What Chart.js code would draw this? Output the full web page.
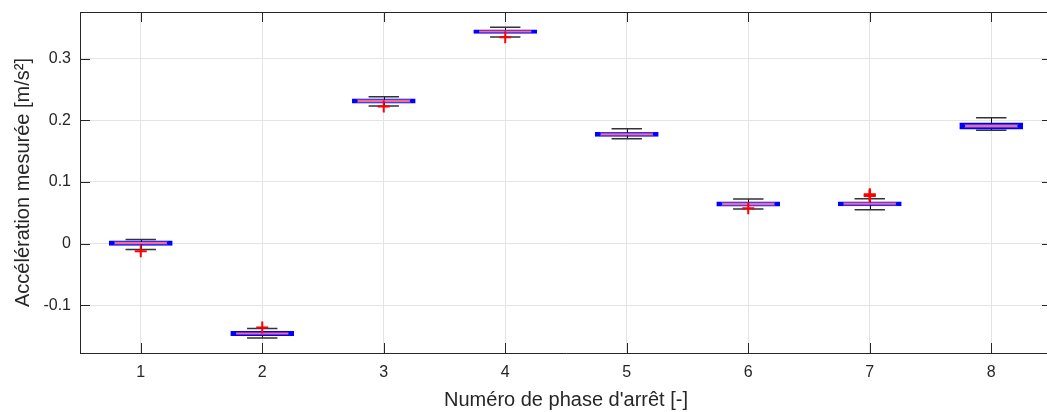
<!DOCTYPE html>
<html>
<head>
<meta charset="utf-8">
<script src="https://cdn.jsdelivr.net/npm/chart.js@4/dist/chart.umd.min.js"></script>
<style>
  html, body { margin: 0; padding: 0; background: #fff; overflow: hidden; }
  #wrap { width: 1060px; height: 412px; }
</style>
</head>
<body>
<div id="wrap"><canvas id="boxChart" width="1060" height="412"></canvas></div>
<script>
// données (une boîte par phase d'arrêt)
const phases = [1, 2, 3, 4, 5, 6, 7, 8];
const medians     = [0.0008, -0.1458, 0.2312, 0.3437, 0.1772, 0.0642, 0.0645, 0.1905];
const q1          = [-0.0012, -0.1476, 0.2296, 0.3427, 0.1757, 0.0627, 0.0630, 0.1875];
const q3          = [0.0024, -0.1441, 0.2327, 0.3447, 0.1787, 0.0657, 0.0660, 0.1938];
const whiskerLow  = [-0.0097, -0.1530, 0.2232, 0.3350, 0.1700, 0.0560, 0.0550, 0.1836];
const whiskerHigh = [0.0065, -0.1378, 0.2380, 0.3506, 0.1864, 0.0723, 0.0729, 0.2040];
const outlierPhase = [1, 2, 3, 4, 6, 7, 7, 7];
const outlierValue = [-0.0125, -0.1362, 0.2222, 0.3345, 0.0575, 0.0770, 0.0785, 0.0800];
const yTicks = [-0.1, 0, 0.1, 0.2, 0.3];

const textColor = '#262626';
const fontFamily = '"Liberation Sans", Arial, Helvetica, sans-serif';

// moustaches, médianes, cadre et graduations intérieures
const boxPlugin = {
  id: 'boxPlugin',
  beforeDatasetsDraw(chart) {
    const ctx = chart.ctx;
    const x = chart.scales.x, y = chart.scales.y;
    ctx.save();
    phases.forEach((p, i) => {
      const px = Math.round(x.getPixelForValue(p)) + 0.5;
      const capL = x.getPixelForValue(p - 0.125);
      const capR = x.getPixelForValue(p + 0.125);
      ctx.strokeStyle = '#000';
      ctx.lineWidth = 1;
      ctx.beginPath();
      ctx.moveTo(px, y.getPixelForValue(q3[i]));
      ctx.lineTo(px, y.getPixelForValue(whiskerHigh[i]));
      ctx.moveTo(px, y.getPixelForValue(q1[i]));
      ctx.lineTo(px, y.getPixelForValue(whiskerLow[i]));
      ctx.stroke();
      ctx.strokeStyle = '#333';
      ctx.lineWidth = 1.5;
      ctx.beginPath();
      ctx.moveTo(capL, y.getPixelForValue(whiskerHigh[i]));
      ctx.lineTo(capR, y.getPixelForValue(whiskerHigh[i]));
      ctx.moveTo(capL, y.getPixelForValue(whiskerLow[i]));
      ctx.lineTo(capR, y.getPixelForValue(whiskerLow[i]));
      ctx.stroke();
    });
    ctx.restore();
  },
  afterDatasetDraw(chart, args) {
    if (args.index !== 0) return;
    const ctx = chart.ctx;
    const x = chart.scales.x, y = chart.scales.y;
    ctx.save();
    ctx.strokeStyle = 'rgb(255, 105, 130)';
    ctx.lineWidth = 2;
    phases.forEach((p, i) => {
      const py = y.getPixelForValue(medians[i]);
      ctx.beginPath();
      ctx.moveTo(x.getPixelForValue(p - 0.215), py);
      ctx.lineTo(x.getPixelForValue(p + 0.215), py);
      ctx.stroke();
    });
    ctx.restore();
  },
  afterDraw(chart) {
    const ctx = chart.ctx;
    const a = chart.chartArea;
    const x = chart.scales.x, y = chart.scales.y;
    const tl = 10;
    ctx.save();
    ctx.strokeStyle = textColor;
    ctx.lineWidth = 1;
    ctx.beginPath();
    ctx.moveTo(a.left, a.top + 0.5);
    ctx.lineTo(a.right, a.top + 0.5);
    ctx.lineTo(a.right, a.bottom);
    phases.forEach(p => {
      const px = Math.round(x.getPixelForValue(p)) + 0.5;
      ctx.moveTo(px, a.bottom);
      ctx.lineTo(px, a.bottom - tl);
      ctx.moveTo(px, a.top);
      ctx.lineTo(px, a.top + tl);
    });
    yTicks.forEach(v => {
      const py = Math.round(y.getPixelForValue(v)) + 0.5;
      ctx.moveTo(a.left, py);
      ctx.lineTo(a.left + tl, py);
      ctx.moveTo(a.right, py);
      ctx.lineTo(a.right - tl, py);
    });
    ctx.stroke();
    ctx.restore();
  }
};

const ctx = document.getElementById('boxChart').getContext('2d');
const boxChart = new Chart(ctx, {
  type: 'bar',
  data: {
    datasets: [
      {
        label: 'Boîtes',
        data: phases.map((p, i) => ({ x: p, y: [q1[i], q3[i]] })),
        backgroundColor: 'rgb(0, 0, 255)',
        borderColor: 'rgb(0, 0, 255)',
        borderWidth: 2,
        borderSkipped: false,
        inflateAmount: 1.5,
        categoryPercentage: 1,
        barPercentage: 0.5,
        order: 2
      },
      {
        type: 'scatter',
        label: 'Valeurs aberrantes',
        data: outlierPhase.map((p, i) => ({ x: p, y: outlierValue[i] })),
        pointStyle: 'cross',
        pointRadius: 6,
        borderColor: 'rgb(255, 0, 0)',
        borderWidth: 2,
        order: 1
      }
    ]
  },
  options: {
    responsive: false,
    animation: false,
    layout: { padding: { left: 0, right: 8, top: 12, bottom: 0 } },
    plugins: {
      legend: { display: false },
      tooltip: { enabled: false }
    },
    scales: {
      x: {
        type: 'linear',
        min: 0.5,
        max: 8.5,
        offset: false,
        afterBuildTicks: s => { s.ticks = phases.map(v => ({ value: v })); },
        afterFit: s => { s.height = 59; s.paddingLeft = 0; s.paddingRight = 0; },
        grid: { color: '#e4e4e4', drawTicks: false, offset: false },
        border: { display: true, color: textColor, width: 1 },
        ticks: {
          padding: 10,
          color: textColor,
          font: { family: fontFamily, size: 16 },
          callback: v => String(v)
        },
        title: {
          display: true,
          text: "Numéro de phase d'arrêt [-]",
          color: textColor,
          font: { family: fontFamily, size: 20 },
          padding: { top: 0, bottom: 0 }
        }
      },
      y: {
        min: -0.1774,
        max: 0.3755,
        afterBuildTicks: s => { s.ticks = yTicks.map(v => ({ value: v })); },
        afterFit: s => { s.width = 80; s.paddingTop = 0; s.paddingBottom = 0; },
        grid: { color: '#e4e4e4', drawTicks: false },
        border: { display: true, color: textColor, width: 1 },
        ticks: {
          padding: 9,
          color: textColor,
          font: { family: fontFamily, size: 16 },
          callback: v => String(Math.round(v * 10) / 10)
        },
        title: {
          display: true,
          text: 'Accélération mesurée [m/s²]',
          color: textColor,
          font: { family: fontFamily, size: 20 },
          padding: { top: 11, bottom: 0 }
        }
      }
    }
  },
  plugins: [boxPlugin]
});
</script>
</body>
</html>
